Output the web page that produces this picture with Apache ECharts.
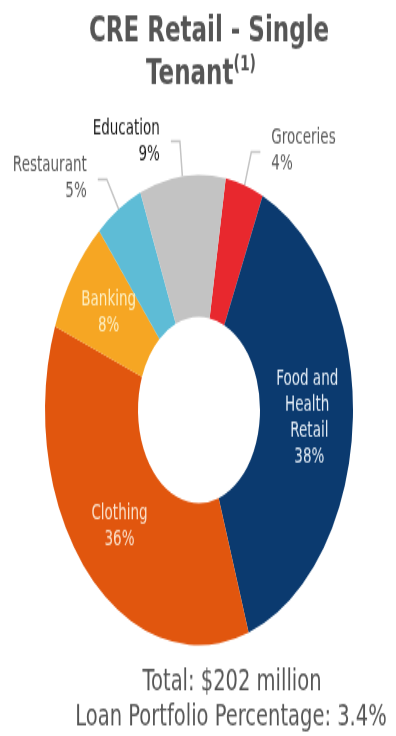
<!DOCTYPE html>
<html lang="en">
<head>
    <meta charset="UTF-8">
    <title>CRE Retail - Single Tenant</title>
    <script src="https://cdn.jsdelivr.net/npm/echarts@6.0.0/dist/echarts.min.js"></script>
    <style>
        html, body { margin: 0; padding: 0; background: #fff; width: 100%; height: 100%; }
        /* the reference is squashed horizontally, so draw flat and stretch it */
        #main { width: 396px; height: 482px; transform: scaleY(1.52697); transform-origin: 0 0; }
    </style>
</head>
<body>
    <div id="main"></div>
    <script>
        // data
        var categories = ['Groceries', 'Food and Health Retail', 'Clothing', 'Banking', 'Restaurant', 'Education'];
        var shares = [4, 38, 36, 8, 5, 9];
        var colors = ['#e8282e', '#0b3a6f', '#e1560e', '#f6a623', '#5ebcd6', '#c3c3c3'];
        var insideLabel = [false, true, true, true, false, false];
        var labelColors = ['#5a5a5a', '#e4edf6', '#fbe2cd', '#fdefc2', '#5a5a5a', '#1a1a1a'];
        var totalText = 'Total: $202 million';
        var portfolioText = 'Loan Portfolio Percentage: 3.4%';

        var font = 'DejaVu Sans';
        var myChart = echarts.init(document.getElementById('main'));

        var pieData = [];
        for (let i = 0; i < categories.length; i++) {
            let item = {
                name: categories[i],
                value: shares[i],
                itemStyle: { color: colors[i] },
                label: { color: labelColors[i] }
            };
            if (insideLabel[i]) {
                item.label.position = 'inside';
                item.label.align = 'center';
                item.label.width = 72;
                item.label.overflow = 'break';
                item.labelLine = { show: false };
            }
            pieData.push(item);
        }

        option = {
            animation: false,
            graphic: [
                {
                    type: 'text', x: 209, y: 21,
                    style: {
                        text: 'CRE Retail - Single', align: 'center', verticalAlign: 'middle',
                        font: 'bold 23px "DejaVu Sans"', fill: '#555555'
                    }
                },
                {
                    type: 'text', x: 201, y: 49,
                    style: {
                        text: '{a|Tenant}{b|(1)}', align: 'center', verticalAlign: 'middle',
                        rich: {
                            a: { fontFamily: font, fontWeight: 'bold', fontSize: 23, lineHeight: 28, fill: '#555555' },
                            b: { fontFamily: font, fontWeight: 'bold', fontSize: 14, lineHeight: 14, verticalAlign: 'top', fill: '#555555' }
                        }
                    }
                },
                {
                    type: 'text', x: 232, y: 447,
                    style: {
                        text: totalText, align: 'center', verticalAlign: 'middle',
                        font: '19.5px "DejaVu Sans"', fill: '#555555'
                    }
                },
                {
                    type: 'text', x: 231, y: 470,
                    style: {
                        text: portfolioText, align: 'center', verticalAlign: 'middle',
                        font: '19.5px "DejaVu Sans"', fill: '#555555'
                    }
                }
            ],
            series: [
                {
                    type: 'pie',
                    center: [199, 268.5],
                    radius: [61, 154],
                    startAngle: 80,
                    clockwise: true,
                    avoidLabelOverlap: false,
                    label: {
                        show: true,
                        position: 'outside',
                        formatter: '{b}\n{c}%',
                        fontFamily: font,
                        fontSize: 13.5,
                        lineHeight: 17,
                        distanceToLabelLine: 11
                    },
                    labelLine: {
                        show: true,
                        length: 23,
                        length2: 9,
                        lineStyle: { color: '#c4c4c4', width: 1.5 }
                    },
                    emphasis: { disabled: true },
                    data: pieData
                }
            ]
        };
        myChart.setOption(option);
    </script>
</body>
</html>
